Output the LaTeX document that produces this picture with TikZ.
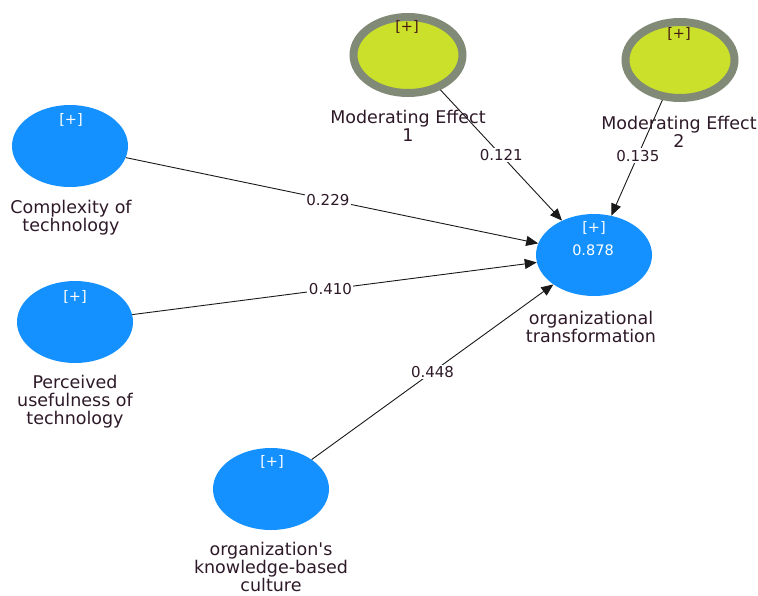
\documentclass[tikz,border=0pt]{standalone}
\usepackage{fontspec}
\setmainfont{DejaVu Sans}
\usetikzlibrary{shapes.geometric,arrows.meta}
\definecolor{lvblue}{RGB}{20,145,255}
\definecolor{modfill}{RGB}{203,224,42}
\definecolor{modring}{RGB}{128,138,118}
\definecolor{txt}{RGB}{45,25,40}
\definecolor{plusdark}{RGB}{70,25,20}
\begin{document}
\begin{tikzpicture}[x=1pt,y=-1pt,
  lv/.style={ellipse, fill=lvblue, minimum width=116pt, minimum height=82pt, inner sep=0pt},
  mod/.style={ellipse, fill=modfill, draw=modring, line width=8pt, minimum width=109pt, minimum height=76pt, inner sep=0pt},
  lbl/.style={text=txt, align=center, font=\fontsize{17.5}{18}\selectfont, inner sep=0pt},
  plus/.style={text=white, font=\fontsize{14.5}{16}\selectfont, inner sep=0pt},
  coef/.style={fill=white, text=txt, font=\fontsize{15}{16}\selectfont, inner sep=1.5pt},
  conn/.style={draw=black!90, line width=0.9pt, -{Triangle[length=12pt,width=10pt]}}
]
\useasboundingbox (0,0) rectangle (758,595);
% latent variables
\node[lv] (cx) at (70,146) {};
\node[lv] (pu) at (75,322) {};
\node[lv] (kb) at (271,489) {};
\node[lv] (ot) at (594,255) {};
\node[mod] (m1) at (408,55) {};
\node[mod] (m2) at (680,60) {};
% inner texts
\node[plus] (cxp) at (71,120) {[+]};
\node[plus] (pup) at (75,297) {[+]};
\node[plus] (kbp) at (272,462) {[+]};
\node[plus] (otp) at (594,228) {[+]};
\node[plus] (otr) at (593,250) {0.878};
\node[plus, text=plusdark] (m1p) at (407,27) {[+]};
\node[plus, text=plusdark] (m2p) at (679,34) {[+]};
% connectors
\draw[conn] (cx) -- node[coef, pos=0.49] {0.229} (ot);
\draw[conn] (pu) -- node[coef, pos=0.49] {0.410} (ot);
\draw[conn] (kb) -- node[coef, pos=0.5] {0.448} (ot);
\draw[conn] (m1) -- node[coef, pos=0.5] {0.121} (ot);
\draw[conn] (m2) -- node[coef, pos=0.48] {0.135} (ot);
% names
\node[lbl] (cxl) at (71,218) {Complexity of\\technology};
\node[lbl] (pul) at (75,402) {Perceived\\usefulness of\\technology};
\node[lbl] (kbl) at (271,567) {organization\textquotesingle s\\knowledge-based\\culture};
\node[lbl] (otl) at (591,327) {organizational\\transformation};
\node[lbl] (m1l) at (408,126) {Moderating Effect\\1};
\node[lbl] (m2l) at (679,132) {Moderating Effect\\2};
\end{tikzpicture}
\end{document}
